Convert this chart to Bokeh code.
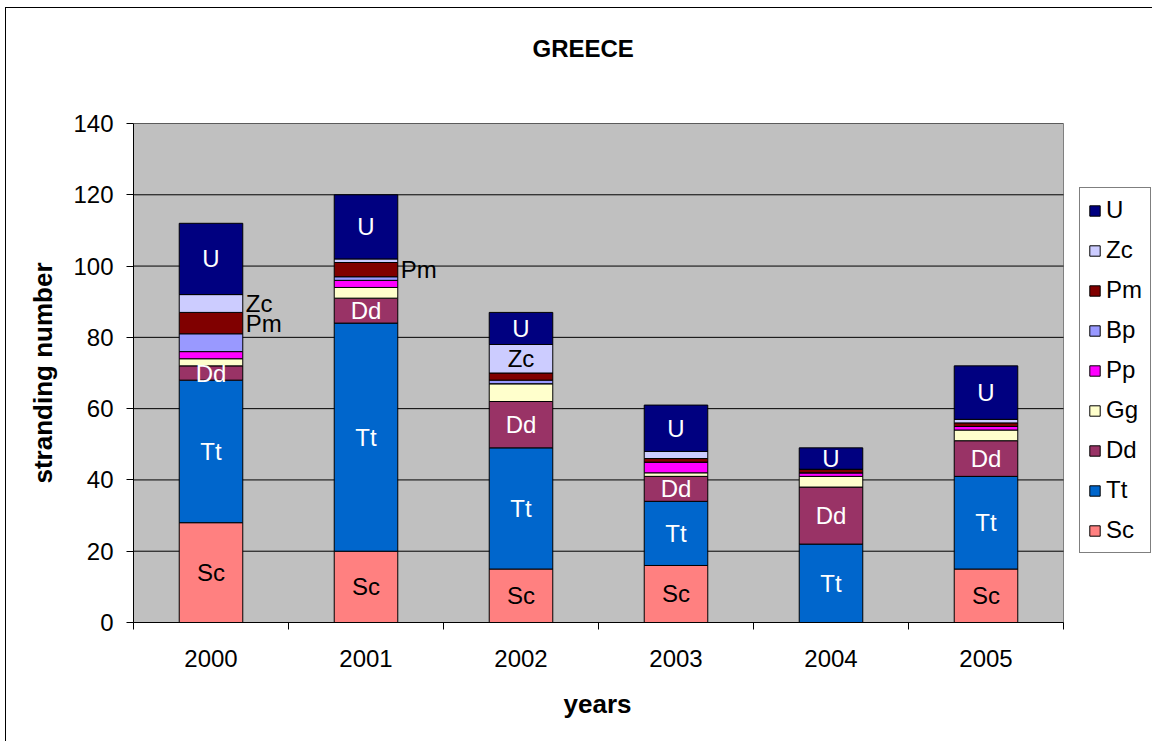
import numpy as np
from bokeh.plotting import figure
from bokeh.models import ColumnDataSource, Range1d, FixedTicker, Legend, LegendItem, Title
from bokeh.core.properties import value
from bokeh.embed import file_html
from bokeh.resources import INLINE

years = ["2000", "2001", "2002", "2003", "2004", "2005"]
Sc = [28, 20, 15, 16, 0, 15]
Tt = [40, 64, 34, 18, 22, 26]
Dd = [4, 7, 13, 7, 16, 10]
Gg = [2, 3, 5, 1, 3, 3]
Pp = [2, 2, 0, 3, 1, 1]
Bp = [5, 1, 1, 0, 0, 0]
Pm = [6, 4, 2, 1, 1, 1]
Zc = [5, 1, 8, 2, 0, 1]
U = [20, 18, 9, 13, 6, 15]
y_ticks = [0, 20, 40, 60, 80, 100, 120, 140]

species = ["Sc", "Tt", "Dd", "Gg", "Pp", "Bp", "Pm", "Zc", "U"]
colors = ["#FF8080", "#0066CC", "#993366", "#FFFFCC", "#FF00FF",
          "#9999FF", "#800000", "#CCCCFF", "#000080"]

# segment labels: (year index, species, text colour, placement)
seg_labels = [
    (0, "Sc", "black", "in"), (0, "Tt", "white", "in"), (0, "Dd", "white", "in"),
    (0, "Pm", "black", "out"), (0, "Zc", "black", "out"), (0, "U", "white", "in"),
    (1, "Sc", "black", "in"), (1, "Tt", "white", "in"), (1, "Dd", "white", "in"),
    (1, "Pm", "black", "out"), (1, "U", "white", "in"),
    (2, "Sc", "black", "in"), (2, "Tt", "white", "in"), (2, "Dd", "white", "in"),
    (2, "Zc", "black", "in"), (2, "U", "white", "in"),
    (3, "Sc", "black", "in"), (3, "Tt", "white", "in"), (3, "Dd", "white", "in"),
    (3, "U", "white", "in"),
    (4, "Tt", "white", "in"), (4, "Dd", "white", "in"), (4, "U", "white", "in"),
    (5, "Sc", "black", "in"), (5, "Tt", "white", "in"), (5, "Dd", "white", "in"),
    (5, "U", "white", "in"),
]

FONT = "Liberation Sans"
BAR_W = 0.41
N = len(years)
YMAX = 140

# layout (pixels)
W, H = 1147, 734
LEFT, TOP, BOTTOM = 127, 115, 120
PLOT_W = 930
frame_w = W - LEFT
x_end = N * frame_w / PLOT_W

xpos = np.arange(N) + 0.5
data = dict(x=xpos, Sc=Sc, Tt=Tt, Dd=Dd, Gg=Gg, Pp=Pp, Bp=Bp, Pm=Pm, Zc=Zc, U=U)
source = ColumnDataSource(data)

p = figure(width=W, height=H, output_backend="svg", toolbar_location=None,
           x_range=Range1d(0, x_end), y_range=Range1d(0, YMAX),
           min_border_left=LEFT, min_border_right=0, min_border_top=TOP,
           min_border_bottom=BOTTOM)
p.border_fill_color = "white"
p.background_fill_color = "white"
p.outline_line_color = None
p.styles = {"position": "relative", "left": "6px", "top": "8px",
            "box-shadow": "-1px -1px 0 0 black"}

# plot area background
p.quad(left=[0], right=[N], bottom=[0], top=[YMAX], fill_color="#C0C0C0",
       line_color="#808080", line_width=1)
# horizontal grid lines
p.segment(x0=[0] * len(y_ticks), x1=[N] * len(y_ticks), y0=y_ticks, y1=y_ticks,
          line_color="black", line_width=1)

renderers = p.vbar_stack(species, x="x", width=BAR_W, color=colors,
                         line_color="black", line_width=1, source=source)

# cumulative stack
vals = {s: np.array(data[s], dtype=float) for s in species}
bottoms = {}
acc = np.zeros(N)
for s in species:
    bottoms[s] = acc.copy()
    acc = acc + vals[s]

in_x, in_y, in_t, in_c = [], [], [], []
out_x, out_y, out_t = [], [], []
for (i, s, c, place) in seg_labels:
    mid = bottoms[s][i] + vals[s][i] / 2.0
    if place == "in":
        in_x.append(xpos[i]); in_y.append(mid); in_t.append(s); in_c.append(c)
    else:
        out_x.append(xpos[i] + BAR_W / 2); out_y.append(mid); out_t.append(s)

p.text(x=in_x, y=in_y, text=in_t, text_color=in_c, text_align="center",
       text_baseline="middle", text_font=value(FONT), text_font_size="24px")
p.text(x=out_x, y=out_y, text=out_t, text_color="black", text_align="left",
       text_baseline="middle", text_font=value(FONT), text_font_size="24px",
       x_offset=3)

p.xgrid.visible = False
p.ygrid.visible = False

# y axis
p.yaxis.ticker = FixedTicker(ticks=y_ticks, minor_ticks=[])
p.yaxis.major_tick_out = 7
p.yaxis.major_tick_in = 0
p.yaxis.major_tick_line_color = "black"
p.yaxis.minor_tick_line_color = None
p.yaxis.major_label_standoff = 13
p.yaxis.major_label_text_font = FONT
p.yaxis.major_label_text_font_size = "24px"
p.yaxis.major_label_text_color = "black"
p.yaxis.axis_label = "stranding number"
p.yaxis.axis_label_text_font = FONT
p.yaxis.axis_label_text_font_style = "bold"
p.yaxis.axis_label_text_font_size = "26px"
p.yaxis.axis_label_text_color = "black"
p.yaxis.axis_label_standoff = 12
p.yaxis.axis_line_color = "black"

# x axis
p.xaxis.bounds = (0, N)
p.xaxis.ticker = FixedTicker(ticks=list(xpos), minor_ticks=list(range(0, N + 1)))
p.xaxis.major_label_overrides = {float(xv): y for xv, y in zip(xpos, years)}
p.xaxis.major_tick_line_color = None
p.xaxis.major_tick_out = 7
p.xaxis.major_tick_in = 0
p.xaxis.minor_tick_out = 7
p.xaxis.minor_tick_in = 0
p.xaxis.minor_tick_line_color = "black"
p.xaxis.major_label_standoff = 20
p.xaxis.major_label_text_font = FONT
p.xaxis.major_label_text_font_size = "24px"
p.xaxis.major_label_text_color = "black"
p.xaxis.axis_line_color = "black"

# x axis title, centred on the plot area
p.add_layout(Title(text="years", align="left", offset=430, standoff=34,
                   text_font=FONT, text_font_style="bold", text_font_size="26px",
                   text_color="black"), "below")

# title (outer) and a blank spacer title between it and the plot
p.title.text = "GREECE"
p.title.align = "left"
p.title.offset = 399
p.title.standoff = 49
p.title.text_font = FONT
p.title.text_font_style = "bold"
p.title.text_font_size = "24px"
p.title.text_color = "black"
p.add_layout(Title(text=" ", standoff=8, text_font_size="24px"), "above")

# legend
items = [LegendItem(label=s, renderers=[r]) for s, r in zip(species, renderers)][::-1]
legend = Legend(items=items, location=(946, 69), orientation="vertical",
                label_text_font=FONT, label_text_font_size="24px",
                label_text_color="black",
                glyph_width=13, glyph_height=13, label_height=20, label_standoff=5,
                spacing=12, padding=8, margin=0,
                border_line_color="black", border_line_width=1,
                background_fill_color="white", background_fill_alpha=1)
p.add_layout(legend, "center")

open("out.html", "w").write(file_html(p, INLINE))
